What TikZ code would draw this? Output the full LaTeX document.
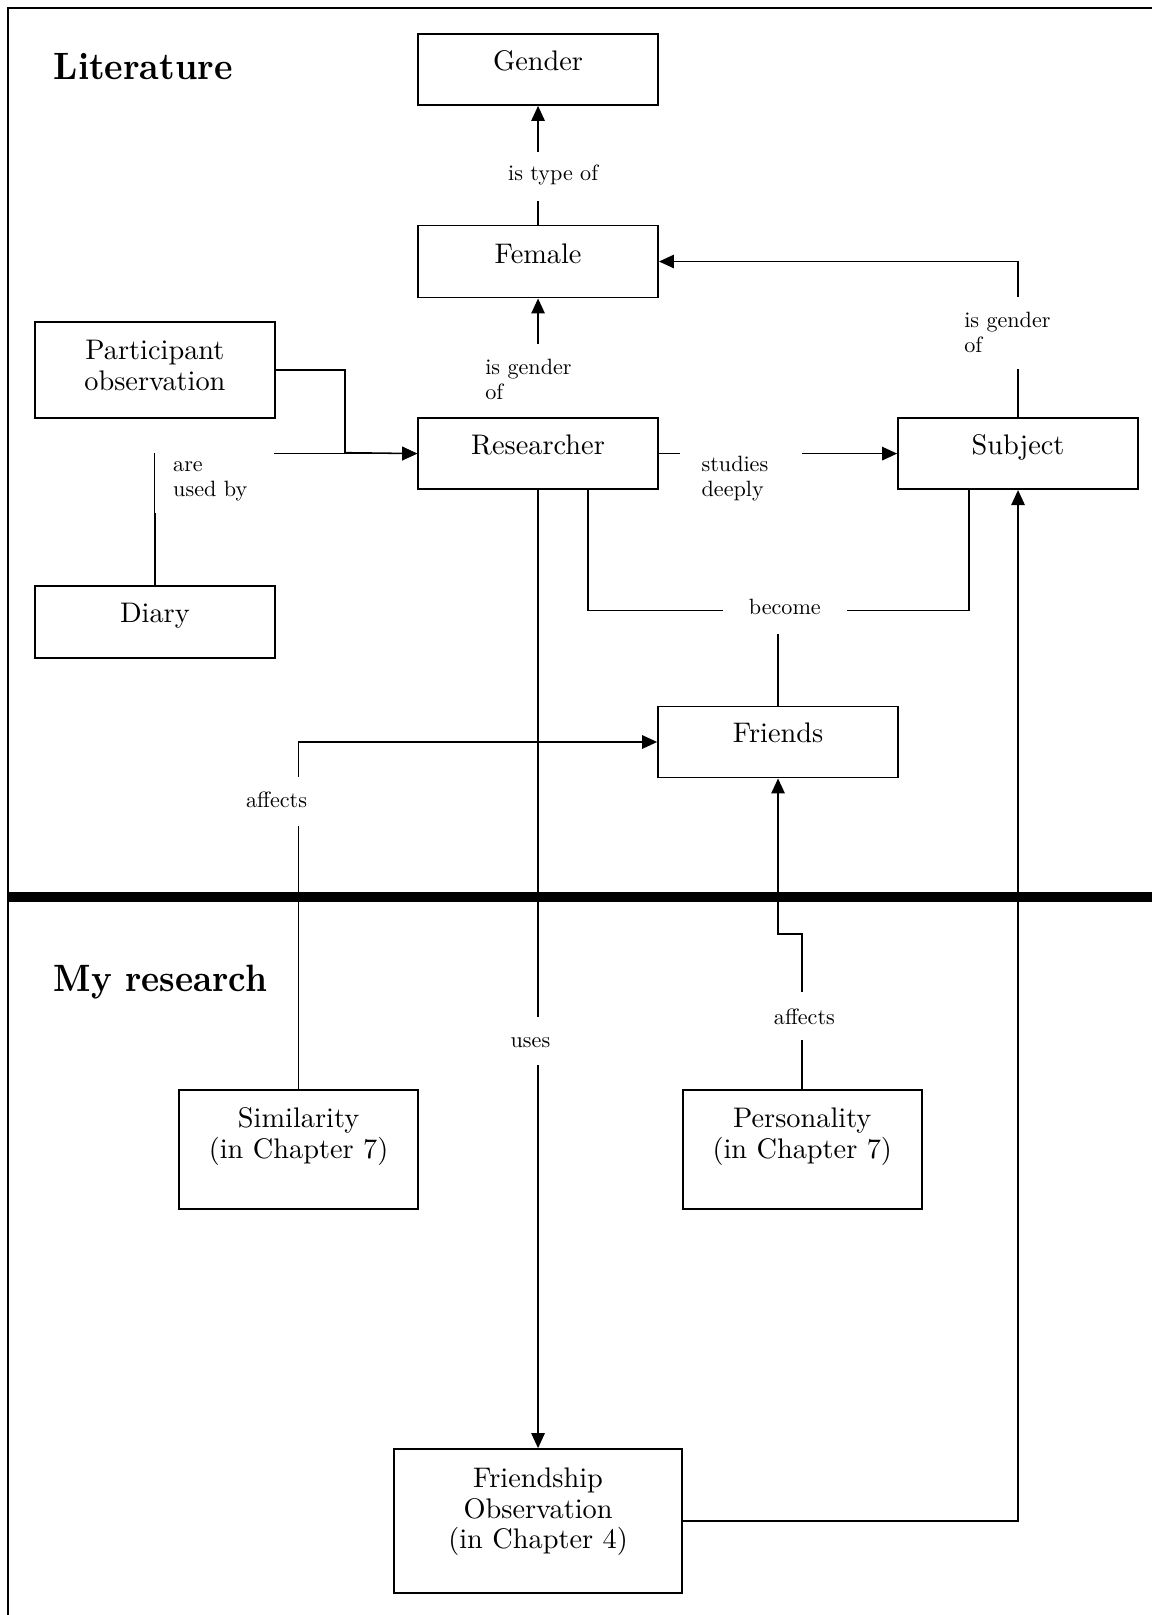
\documentclass[tikz,border=0pt]{standalone}
\usepackage{fontspec}
% text-size Latin Modern cut at every size (heavier and wider than the display cut)
\setmainfont{lmroman10-regular}[Extension=.otf, BoldFont=lmroman10-bold, ItalicFont=lmroman10-italic]
\usetikzlibrary{arrows.meta,backgrounds}

% stacked lines inside a box (centred) and inside a label (left aligned)
\newcommand\boxlines[1]{\begin{tabular}[t]{@{}c@{}}#1\end{tabular}}
\newcommand\lbllines[2]{\makebox[#1][l]{\begin{tabular}[t]{@{}l@{}}#2\end{tabular}}}

\begin{document}
\begin{tikzpicture}[x=1pt,y=-1pt,
  box/.style={draw, line width=1.8pt, inner sep=0pt, anchor=north west,
    minimum width=233pt, font=\fontsize{27.5}{30}\selectfont},
  lbl/.style={fill=white, inner sep=0pt, font=\fontsize{21.5}{24}\selectfont},
  conn/.style={line width=1.5pt},
  arr/.style={conn, -{Triangle[length=14.5pt,width=13pt]}},
  heading/.style={anchor=base west, inner sep=0pt, font=\fontsize{37}{40}\selectfont\bfseries}]

\path[use as bounding box] (0,0) rectangle (1118,1568);

% frame and section divider
\draw[line width=1.5pt] (8,1580) -- (8,8) -- (1130,8);
\draw[line width=9pt] (8,871) -- (1130,871);

% section headings
\node[heading] (lit) at (52,77.6) {\scalebox{0.92}[1]{Literature}};
\node[heading] (myres) at (52,962.4) {\scalebox{0.9}[1]{My research}};

% concept boxes
\node[box, text height=36pt, text depth=33pt] (gender) at (405,32) {Gender};
\node[box, text height=36.5pt, text depth=33.5pt] (female) at (405,218) {Female};
\node[box, text height=36pt, text depth=57pt] (po) at (33,312) {\boxlines{Participant\\observation}};
\node[box, text height=35.5pt, text depth=33.5pt] (researcher) at (405,405) {Researcher};
\node[box, text height=35.5pt, text depth=33.5pt] (subject) at (871,405) {Subject};
\node[box, text height=35.5pt, text depth=34.5pt] (diary) at (33,568) {Diary};
\node[box, text height=35pt, text depth=34pt] (friends) at (638,685) {Friends};
\node[box, minimum width=232pt, text height=36.5pt, text depth=79.5pt] (similarity) at (173,1057)
  {\boxlines{Similarity\\(in Chapter 7)}};
\node[box, minimum width=232pt, text height=36.5pt, text depth=79.5pt] (personality) at (662,1057)
  {\boxlines{Personality\\(in Chapter 7)}};
\node[box, minimum width=279pt, text height=37pt, text depth=103pt] (fo) at (382,1406)
  {\boxlines{Friendship\\Observation\\(in Chapter 4)}};

% link labels (white boxes laid over the connectors)
\node[lbl, anchor=base, text height=27pt, text depth=20pt, inner xsep=8pt] (typeof) at (537,175) {is type of};
\node[lbl, anchor=base west, text height=30pt, text depth=41.2pt, inner xsep=19pt] (gendR) at (452,364)
  {\lbllines{102pt}{is gender\\of}};
\node[lbl, anchor=base west, text height=20pt, text depth=40pt, inner xsep=18pt] (usedby) at (150,458)
  {\lbllines{80pt}{are\\used by}};
\node[lbl, anchor=base west, text height=20pt, text depth=40pt, inner xsep=21pt] (studies) at (660,458)
  {\lbllines{76pt}{studies\\deeply}};
\node[lbl, anchor=base west, text height=30pt, text depth=40pt, inner xsep=20pt] (gendS) at (916,318)
  {\lbllines{100pt}{is gender\\of}};
\node[lbl, anchor=base, text height=22pt, text depth=18pt, minimum width=120pt] (become) at (762,597) {become};
\node[lbl, anchor=base, text height=30pt, text depth=18pt, minimum width=80pt] (affL) at (268.5,784) {affects};
\node[lbl, anchor=base, text height=32pt, text depth=15pt, minimum width=80pt] (affR) at (781,995) {affects};
\node[lbl, anchor=base, text height=30pt, text depth=17pt, minimum width=60pt] (uses) at (515,1017) {uses};

% connectors, kept underneath the boxes and labels
\begin{pgfonlayer}{background}
  \coordinate (pojoin) at (335,439.5);
  \draw[arr] (female.north) -- (gender.south);
  \draw[arr] (researcher.north) -- (female.south);
  \draw[arr] (subject.north) |- (female.east);
  \draw[conn] (po.east) -| (pojoin);
  \draw[arr] (pojoin) -- (researcher.west);
  \draw[arr] (diary.north) |- (researcher.west);
  \draw[arr] (researcher.east) -- (subject.west);
  \draw[conn] ([xshift=-69pt]researcher.south east) -- ++(0,117) -| ([xshift=70pt]subject.south west);
  \draw[conn] (friends.north) -- (friends.north |- become.south);
  \draw[arr] (researcher.south) -- (fo.north);
  \draw[arr] (similarity.north) |- (friends.west);
  \draw[arr] (personality.north) -- ++(0,-150) -| (friends.south);
  \draw[arr] (fo.east) -| (subject.south);
\end{pgfonlayer}
\end{tikzpicture}
\end{document}
